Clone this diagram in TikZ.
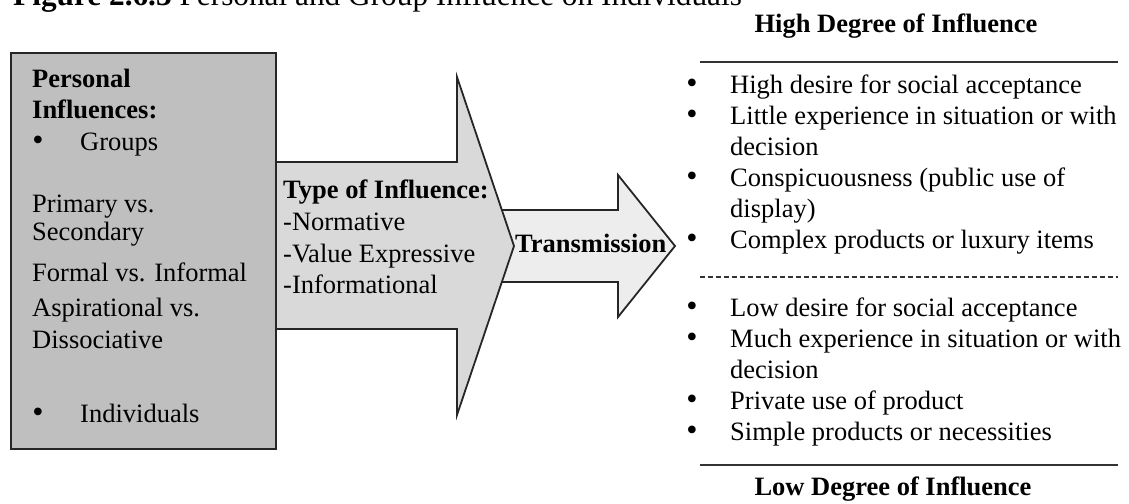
\documentclass[tikz,border=0pt]{standalone}
\usepackage{fontspec}
\setmainfont{Liberation Serif}
\begin{document}
\begin{tikzpicture}[x=1pt,y=-1pt,
  txt/.style={anchor=base west, inner sep=0pt, font=\fontsize{26.5}{26}\selectfont},
  btxt/.style={anchor=base west, inner sep=0pt, font=\fontsize{26.5}{26}\selectfont\bfseries},
  ctxt/.style={anchor=base, inner sep=0pt, font=\fontsize{26.5}{26}\selectfont\bfseries},
  bul/.style={anchor=base, inner sep=0pt, font=\fontsize{32}{30}\selectfont},
  outline/.style={draw=black!85, line width=1.8pt, line join=miter},
  rule/.style={draw=black!80, line width=1.6pt}]
\useasboundingbox (0,0) rectangle (1129,503);
% title (cut at the top)
\node[anchor=base west, inner sep=0pt, font=\fontsize{31.3}{32}\selectfont] (title) at (13,6)
  {\textbf{Figure 2.6.3} Personal and Group Influence on Individuals};
% small arrow (behind)
\path[outline, fill=black!7] (480,210) -- (618,210) -- (618,175) -- (675,246)
  -- (618,317) -- (618,282) -- (480,282) -- cycle;
% big arrow
\path[outline, fill=black!15] (275,162) -- (457,162) -- (457,77) -- (514,246)
  -- (457,415) -- (457,329) -- (275,329) -- cycle;
% left box
\node[outline, fill=black!25, minimum width=265pt, minimum height=396pt, inner sep=0pt,
  anchor=north west] (box) at (10,52) {};
% left box text
\node[btxt] (p1) at (32,87) {Personal};
\node[btxt] (p2) at (32,118) {Influences:};
\node[bul] (pb1) at (38,150) {•};
\node[txt] (p3) at (80,150) {Groups};
\node[txt] (p4) at (32,212) {Primary vs.};
\node[txt] (p5) at (32,240) {Secondary};
\node[txt] (p6) at (32,281) {Formal vs. Informal};
\node[txt] (p7) at (32,316) {Aspirational vs.};
\node[txt] (p8) at (32,348) {Dissociative};
\node[bul] (pb2) at (38,422) {•};
\node[txt] (p9) at (80,422) {Individuals};
% middle text
\node[btxt] (t0) at (283,198) {Type of Influence:};
\node[txt] (t1) at (283,230) {-Normative};
\node[txt] (t2) at (283,262) {-Value Expressive};
\node[txt] (t3) at (283,293) {-Informational};
\node[btxt] (tr) at (515,252) {Transmission};
% right side
\node[ctxt] (hi) at (896,33) {High Degree of Influence};
\coordinate (l1a) at (700,62); \coordinate (l1b) at (1118,62);
\draw[rule] (l1a) -- (l1b);
\node[bul] (b1) at (692,93) {•};
\node[txt] (r1) at (730,93) {High desire for social acceptance};
\node[bul] (b2) at (692,124) {•};
\node[txt] (r2) at (730,124) {Little experience in situation or with};
\node[txt] (r3) at (730,155) {decision};
\node[bul] (b3) at (692,186) {•};
\node[txt] (r4) at (730,186) {Conspicuousness (public use of};
\node[txt] (r5) at (730,217) {display)};
\node[bul] (b4) at (692,248) {•};
\node[txt] (r6) at (730,248) {Complex products or luxury items};
\coordinate (l2a) at (700,277); \coordinate (l2b) at (1118,277);
\draw[draw=black!80, line width=1.2pt, dash pattern=on 5pt off 3pt] (l2a) -- (l2b);
\node[bul] (b5) at (692,316) {•};
\node[txt] (r7) at (730,316) {Low desire for social acceptance};
\node[bul] (b6) at (692,347) {•};
\node[txt] (r8) at (730,347) {Much experience in situation or with};
\node[txt] (r9) at (730,378) {decision};
\node[bul] (b7) at (692,409) {•};
\node[txt] (r10) at (730,409) {Private use of product};
\node[bul] (b8) at (692,440) {•};
\node[txt] (r11) at (730,440) {Simple products or necessities};
\coordinate (l3a) at (700,465); \coordinate (l3b) at (1118,465);
\draw[rule] (l3a) -- (l3b);
\node[ctxt] (lo) at (893,495) {Low Degree of Influence};
\end{tikzpicture}
\end{document}
